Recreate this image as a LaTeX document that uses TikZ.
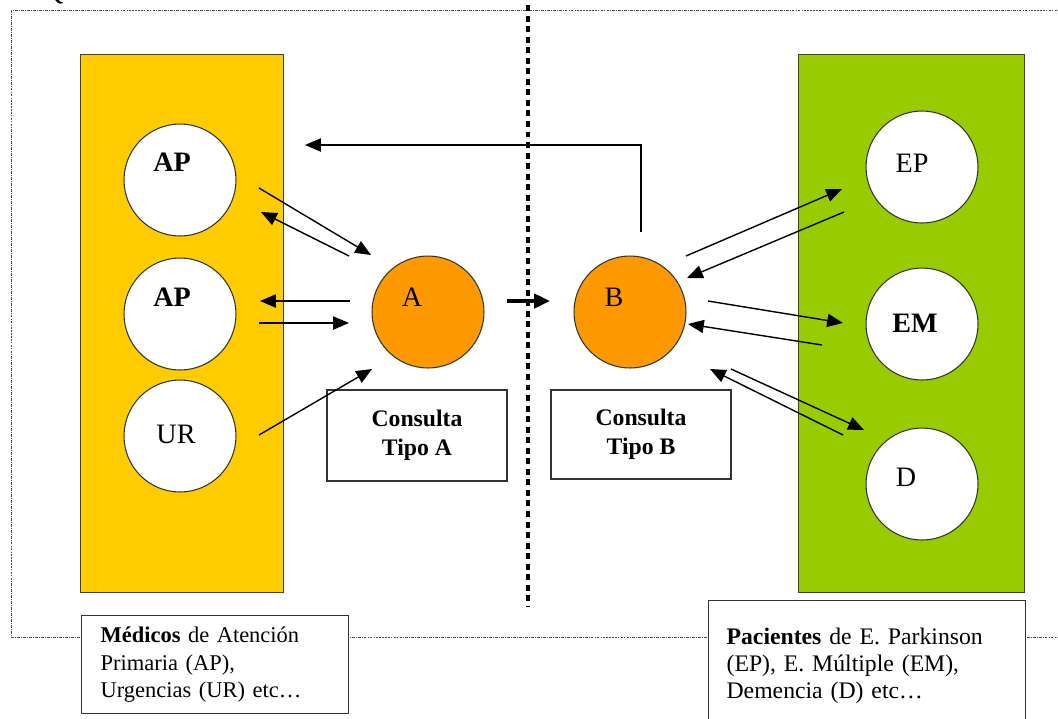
\documentclass[tikz,border=0pt]{standalone}
\usepackage{fontspec}
\setmainfont{Liberation Serif}
\usetikzlibrary{arrows.meta,positioning}
\definecolor{amarillo}{HTML}{FFCC00}
\definecolor{verde}{HTML}{99CC00}
\definecolor{naranja}{HTML}{FF9900}

\begin{document}
\begin{tikzpicture}[x=0.02cm, y=-0.02cm,
    panel/.style={rectangle, draw=black!75, line width=0.8pt,
        anchor=north west, inner sep=0pt},
    blanco/.style={circle, draw=black!80, fill=white, line width=0.6pt,
        minimum size=2.24cm, inner sep=0pt},
    bola/.style={circle, draw=black!80, fill=naranja, line width=0.6pt,
        minimum size=2.24cm, inner sep=0pt},
    etiqueta/.style={font=\fontsize{16}{18}\selectfont, inner sep=0pt},
    consulta/.style={rectangle, draw=black!80, fill=white, line width=0.7pt,
        minimum width=3.6cm, align=center,
        font=\fontsize{13.5}{16.5}\selectfont\bfseries},
    nota/.style={rectangle, draw=black!80, fill=white, line width=0.7pt,
        anchor=north west, align=left, inner ysep=0pt,
        font=\fontsize{13.5}{15.5}\selectfont},
    flecha/.style={-{Triangle[length=9pt,width=7.5pt]}, line width=0.8pt},
    gruesa/.style={-{Triangle[length=9pt,width=8pt]}, line width=2.2pt},
    borde/.style={draw=black!70, line width=0.5pt,
        dash pattern=on 1.6pt off 0.6pt on 0.6pt off 0.6pt},
    divisor/.style={line width=2.3pt, dash pattern=on 3.4pt off 2.6pt}]

\useasboundingbox (0,0) rectangle (1058,718);

\node (Q) [etiqueta, anchor=base west] at (43,-1) {Q};
\draw[borde] (11,10) rectangle (1075,637);
\draw[divisor] (528,5) -- (528,606);

% paneles
\node (Medicos) [panel, fill=amarillo, minimum width=4.06cm,
    minimum height=10.76cm] at (80,54) {};
\node (Pacientes) [panel, fill=verde, minimum width=4.52cm,
    minimum height=10.76cm] at (798,54) {};

% circulos
\node (AP01) [blanco] at (180,180) {};
\node (AP02) [blanco] at (180,314) {};
\node (UR) [blanco] at (180,436) {};
\node (A) [bola] at (428,312) {};
\node (B) [bola] at (630,312) {};
\node (EP) [blanco] at (922,167) {};
\node (EM) [blanco] at (922,324) {};
\node (D) [blanco] at (922,484) {};

\node (AP01txt) [etiqueta, font=\fontsize{16}{18}\selectfont\bfseries]
    at ([shift={(-8,-18)}]AP01.center) {AP};
\node (AP02txt) [etiqueta, font=\fontsize{16}{18}\selectfont\bfseries]
    at ([shift={(-8,-17)}]AP02.center) {AP};
\node (URtxt) [etiqueta] at ([shift={(-4,-2)}]UR.center) {UR};
\node (Atxt) [etiqueta] at ([shift={(-16,-15)}]A.center) {A};
\node (Btxt) [etiqueta] at ([shift={(-16,-15)}]B.center) {B};
\node (EPtxt) [etiqueta] at ([shift={(-10,-4)}]EP.center) {EP};
\node (EMtxt) [etiqueta, font=\fontsize{16}{18}\selectfont\bfseries]
    at ([shift={(-7,-1)}]EM.center) {EM};
\node (Dtxt) [etiqueta] at ([shift={(-16,-7)}]D.center) {D};

% cajas
\node (TipoA) [consulta, minimum height=1.82cm] at (417,435.5)
    {Consulta\\Tipo A};
\node (TipoB) [consulta, minimum height=1.78cm] at (641,434.5)
    {Consulta\\Tipo B};
\node (NotaMed) [nota, font=\fontsize{12.8}{15.5}\selectfont,
    text width=4.58cm, inner xsep=0.38cm,
    minimum height=1.96cm] at (81,615)
    {\textbf{Médicos} de Atención\\Primaria (AP),\\Urgencias (UR) etc…};
\node (NotaPac) [nota, text width=5.62cm, inner xsep=0.36cm,
    minimum height=2.6cm] at (708,600)
    {\textbf{Pacientes} de E. Parkinson\\(EP), E. Múltiple (EM),\\Demencia (D) etc…};

% flechas izquierda
\draw[flecha] ([shift={(79,8)}]AP01.center) -- ([shift={(-57,-57)}]A.center);
\draw[flecha] ([shift={(-79,-56)}]A.center) -- ([shift={(81,32)}]AP01.center);
\draw[flecha] ([shift={(-78,-11)}]A.center) -- ([shift={(80,-13)}]AP02.center);
\draw[flecha] ([shift={(79,9)}]AP02.center) -- ([shift={(-79,11)}]A.center);
\draw[flecha] ([shift={(79,-1)}]UR.center) -- ([shift={(-56,57)}]A.center);
\draw[flecha] ([shift={(11,-80)}]B.center) |- ([shift={(125,-35)}]AP01.center);
\draw[gruesa] ([shift={(79,-11)}]A.center) -- ([shift={(-80,-11)}]B.center);

% flechas derecha
\draw[flecha] ([shift={(56,-56)}]B.center) -- ([shift={(-80,22)}]EP.center);
\draw[flecha] ([shift={(-78,45)}]EP.center) -- ([shift={(57,-34)}]B.center);
\draw[flecha] ([shift={(78,-11)}]B.center) -- ([shift={(-79,-1)}]EM.center);
\draw[flecha] ([shift={(-100,21)}]EM.center) -- ([shift={(58,12)}]B.center);
\draw[flecha] ([shift={(101,57)}]B.center) -- ([shift={(-58,-54)}]D.center);
\draw[flecha] ([shift={(-79,-49)}]D.center) -- ([shift={(80,57)}]B.center);

\end{tikzpicture}
\end{document}
